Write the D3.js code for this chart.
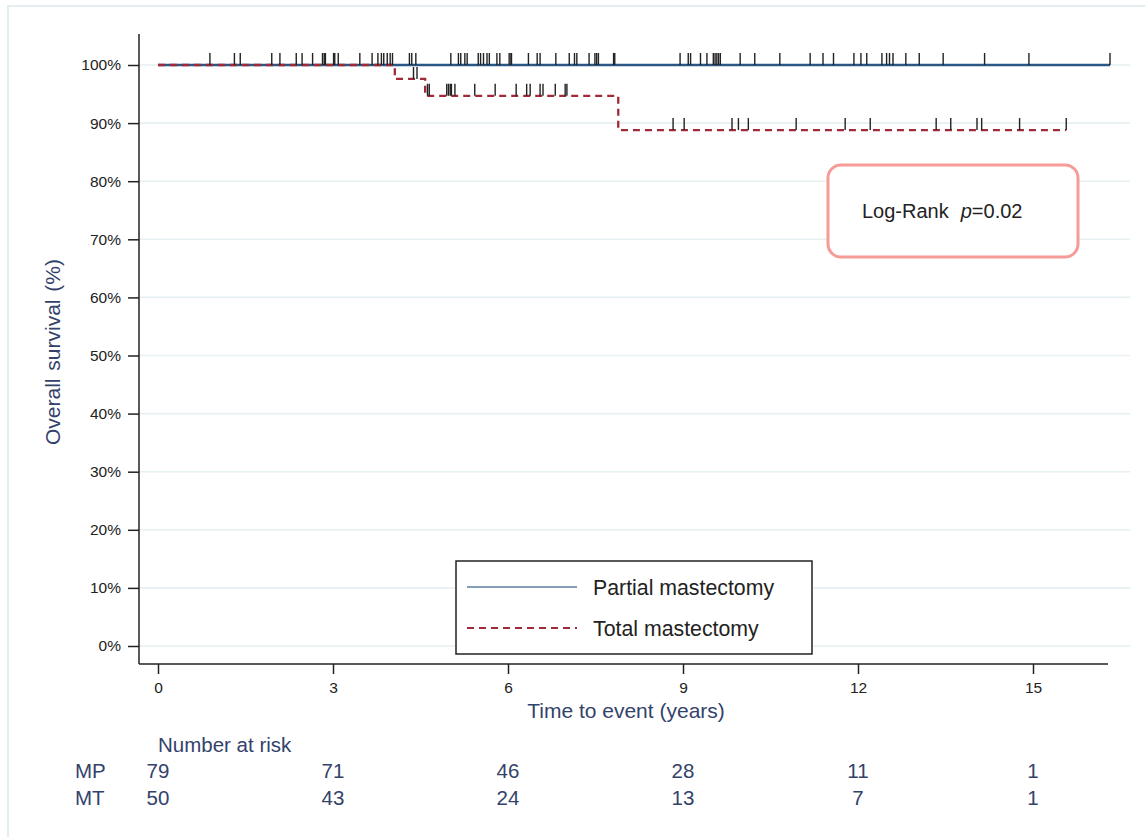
<!DOCTYPE html>
<html>
<head>
<meta charset="utf-8">
<script src="https://cdn.jsdelivr.net/npm/d3@7"></script>
<style>
  body { margin: 0; background: #fff; }
  svg text { font-family: "Liberation Sans", Arial, sans-serif; }
</style>
</head>
<body>
<div id="chart"></div>
<script>
// survival curves (time in years, survival as fraction)
const mpSteps = [[0, 1], [16.32, 1]]
const mtSteps = [[0, 1], [4.06, 0.976], [4.58, 0.947], [7.89, 0.888], [15.57, 0.888]]

// censored observations
const mpCensor = [0.89, 1.31, 1.41, 1.95, 2.09, 2.37, 2.47, 2.65, 2.82, 2.85, 2.87, 3.01, 3.03,
  3.09, 3.46, 3.67, 3.77, 3.83, 3.87, 3.93, 3.98, 4.02, 4.31, 4.35, 4.42, 5.02, 5.15, 5.19,
  5.26, 5.30, 5.49, 5.53, 5.58, 5.64, 5.68, 5.81, 5.86, 6.02, 6.05, 6.06, 6.35, 6.50, 6.55,
  6.82, 7.05, 7.14, 7.18, 7.39, 7.49, 7.52, 7.55, 7.81, 7.83, 8.95, 9.09, 9.13, 9.30, 9.41,
  9.52, 9.55, 9.58, 9.61, 9.64, 9.98, 10.23, 10.66, 11.18, 11.40, 11.58, 11.93, 12.05, 12.15,
  12.41, 12.49, 12.54, 12.60, 12.82, 13.05, 13.46, 14.17, 14.93, 16.32]
const mtCensor = [4.38, 4.44, 4.62, 4.65, 4.95, 4.98, 5.01, 5.03, 5.09, 5.43, 5.78, 6.14, 6.32,
  6.38, 6.55, 6.60, 6.81, 6.98, 7.01, 8.83, 9.02, 9.84, 9.95, 10.12, 10.94, 11.78, 12.21,
  13.34, 13.59, 14.04, 14.12, 14.77, 15.57]

const xTicks = [0, 3, 6, 9, 12, 15]
const yTicks = [0, 0.1, 0.2, 0.3, 0.4, 0.5, 0.6, 0.7, 0.8, 0.9, 1]
const riskGroups = ['MP', 'MT']
const riskMP = [79, 71, 46, 28, 11, 1]
const riskMT = [50, 43, 24, 13, 7, 1]
const legendLabels = ['Partial mastectomy', 'Total mastectomy']

const W = 1145, H = 837,
      blue = '#2a5785', red = '#9e2b37', navy = '#33426a'

const svg = d3.select('#chart').append('svg').attr('width', W).attr('height', H)

const x = d3.scaleLinear().domain([0, 15]).range([158, 1033]),
      y = d3.scaleLinear().domain([0, 1]).range([646, 65])

// faint outer frame
svg.append('path').attr('d', `M8,${H} L8,6 L${W},6`)
  .attr('fill', 'none').attr('stroke', '#e4eef0').attr('stroke-width', 2)

// grid
svg.append('g').selectAll('line').data(yTicks).enter().append('line')
  .attr('x1', 139).attr('x2', 1130)
  .attr('y1', d => y(d)).attr('y2', d => y(d))
  .attr('stroke', '#e6eff1').attr('stroke-width', 1.6)

// axes
const yAxis = svg.append('g').attr('transform', 'translate(139,0)')
  .call(d3.axisLeft(y).tickValues(yTicks).tickFormat(d3.format('.0%')).tickSize(11).tickPadding(7))
const xAxis = svg.append('g').attr('transform', 'translate(0,664)')
  .call(d3.axisBottom(x).tickValues(xTicks).tickSize(10).tickPadding(8))

;[yAxis, xAxis].forEach(g => {
  g.select('.domain').remove()
  g.selectAll('line').attr('stroke', '#222').attr('stroke-width', 1.5)
  g.selectAll('text').attr('fill', '#222').style('font-size', '15.5px')
    .style('font-family', '"Liberation Sans", Arial, sans-serif')
})
svg.append('line').attr('x1', 139).attr('x2', 139).attr('y1', 34).attr('y2', 664)
  .attr('stroke', '#222').attr('stroke-width', 1.5)
svg.append('line').attr('x1', 139).attr('x2', 1108).attr('y1', 664).attr('y2', 664)
  .attr('stroke', '#222').attr('stroke-width', 1.5)

svg.append('text').attr('x', 626).attr('y', 718).attr('text-anchor', 'middle')
  .attr('fill', navy).style('font-size', '21px').text('Time to event (years)')
svg.append('text').attr('transform', 'translate(60,352) rotate(-90)').attr('text-anchor', 'middle')
  .attr('fill', navy).style('font-size', '21px').style('word-spacing', '2px')
  .text('Overall survival (%)')

// curves
const line = d3.line().x(d => x(d[0])).y(d => y(d[1])).curve(d3.curveStepAfter)

function survAt(steps, t) {
  let s = steps[0][1]
  steps.forEach(p => { if (p[0] <= t) s = p[1] })
  return s }

svg.append('path').datum(mpSteps).attr('d', line)
  .attr('fill', 'none').attr('stroke', blue).attr('stroke-width', 2.5)
svg.append('path').datum(mtSteps).attr('d', line)
  .attr('fill', 'none').attr('stroke', red).attr('stroke-width', 2.3)
  .attr('stroke-dasharray', '7,5')

const censors = [[mpSteps, mpCensor], [mtSteps, mtCensor]]
censors.forEach(([steps, times]) => {
  svg.append('g').selectAll('line').data(times).enter().append('line')
    .attr('x1', d => x(d)).attr('x2', d => x(d))
    .attr('y1', d => y(survAt(steps, d))).attr('y2', d => y(survAt(steps, d)) - 12)
    .attr('stroke', '#222').attr('stroke-width', 1.4)
})

// legend
const lg = svg.append('g')
lg.append('rect').attr('x', 456).attr('y', 561).attr('width', 356).attr('height', 93)
  .attr('fill', '#fff').attr('stroke', '#222').attr('stroke-width', 1.5)
legendLabels.forEach((lab, i) => {
  let ly = 587 + i * 41
  lg.append('line').attr('x1', 467).attr('x2', 577).attr('y1', ly).attr('y2', ly)
    .attr('stroke', i ? red : '#5b7ea0').attr('stroke-width', i ? 2 : 1.6)
    .attr('stroke-dasharray', i ? '7,5' : null)
  lg.append('text').attr('x', 593).attr('y', ly + 8).attr('fill', '#222')
    .style('font-size', '21.3px').text(lab)
})

// log-rank box
svg.append('rect').attr('x', 828).attr('y', 165).attr('width', 250).attr('height', 92)
  .attr('rx', 13).attr('fill', '#fff').attr('stroke', '#f69b97').attr('stroke-width', 3)
const lr = svg.append('text').attr('x', 862).attr('y', 218).attr('fill', '#222').style('font-size', '20px')
lr.append('tspan').text('Log-Rank')
lr.append('tspan').attr('dx', 12).style('font-style', 'italic').text('p')
lr.append('tspan').text('=0.02')

// number at risk
svg.append('text').attr('x', 158).attr('y', 752).attr('fill', navy)
  .style('font-size', '20.5px').text('Number at risk')
;[riskMP, riskMT].forEach((row, i) => {
  let ry = 778 + i * 27
  svg.append('text').attr('x', 75).attr('y', ry).attr('fill', navy)
    .style('font-size', '20.5px').text(riskGroups[i])
  svg.append('g').selectAll('text').data(row).enter().append('text')
    .attr('x', (d, j) => x(xTicks[j])).attr('y', ry).attr('text-anchor', 'middle')
    .attr('fill', navy).style('font-size', '20.5px').text(d => d)
})
</script>
</body>
</html>
